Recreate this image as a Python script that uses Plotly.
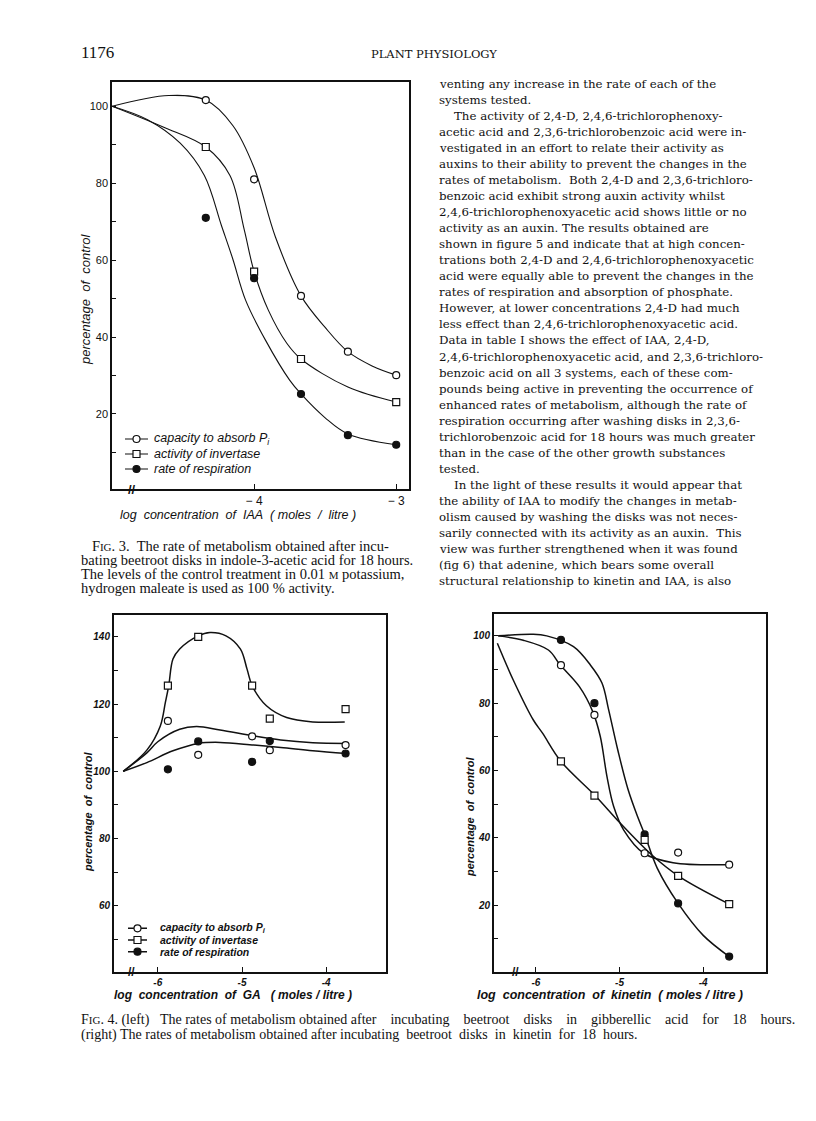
import plotly.graph_objects as go

# page is 816x1121; the html body adds an 8px margin, so the figure is 800x1105 offset by 8px
PAGE_W, PAGE_H = 816, 1121
OFF = 8
W, H = PAGE_W - 2 * OFF, PAGE_H - 2 * OFF

# ---------------- data: Fig. 3 (IAA) ----------------
iaa_x = [-4.34, -4.0, -3.67, -3.34, -3.0]
iaa_pi = [101.6, 81.0, 50.7, 36.2, 30.1]
iaa_inv_x = [-4.34, -4.0, -3.67, -3.0]
iaa_inv = [89.4, 57.0, 34.3, 23.1]
iaa_resp = [71.0, 55.3, 25.2, 14.5, 12.0]
# hand-drawn fitted curves (knots)
iaa_pi_fit_x = [-5.0, -4.6, -4.34, -4.15, -4.0, -3.85, -3.67, -3.5, -3.34, -3.17, -3.0]
iaa_pi_fit_y = [100, 102.8, 101.6, 95.0, 84.0, 66.0, 50.7, 42.5, 36.2, 32.5, 30.1]
iaa_inv_fit_x = [-5.0, -4.64, -4.34, -4.17, -4.07, -4.0, -3.9, -3.77, -3.67, -3.34, -3.0]
iaa_inv_fit_y = [100, 94.6, 89.4, 82.0, 68.0, 57.0, 47.0, 38.4, 34.3, 27.0, 23.1]
iaa_resp_fit_x = [-5.0, -4.75, -4.52, -4.35, -4.23, -4.15, -4.06, -3.92, -3.75, -3.67, -3.5, -3.34, -3.0]
iaa_resp_fit_y = [100, 96.5, 90.4, 82.0, 69.0, 60.3, 49.6, 39.2, 28.8, 25.2, 19.0, 14.8, 12.0]

# ---------------- data: Fig. 4 left (GA) ----------------
ga_x = [-5.88, -5.52, -4.88, -4.67, -3.77]
ga_pi = [115.0, 104.9, 110.4, 106.3, 107.8]
ga_inv = [125.5, 140.0, 125.5, 115.7, 118.5]
ga_resp = [100.6, 108.9, 102.8, 109.0, 105.3]
ga_inv_fit_x = [-6.41, -6.13, -5.97, -5.91, -5.87, -5.82, -5.74, -5.52, -5.38, -5.19, -5.02, -4.94, -4.88, -4.71, -4.47, -4.16, -3.78]
ga_inv_fit_y = [100, 106.3, 113.5, 120.5, 125.5, 133.4, 136.4, 140.3, 141.3, 140.3, 136.4, 130.4, 125.5, 119.5, 116.0, 114.7, 114.7]
ga_pi_fit_x = [-6.41, -6.13, -6.0, -5.74, -5.54, -5.26, -4.86, -4.54, -4.16, -3.76]
ga_pi_fit_y = [100, 105.5, 108.8, 112.5, 113.3, 112.3, 110.5, 109.3, 108.5, 108.3]
ga_resp_fit_x = [-6.41, -6.13, -5.82, -5.52, -5.26, -4.86, -4.54, -4.16, -3.76]
ga_resp_fit_y = [100, 102.6, 106.1, 108.3, 108.6, 107.8, 107.1, 106.1, 105.3]

# ---------------- data: Fig. 4 right (kinetin) ----------------
kin_x = [-5.70, -5.30, -4.70, -4.30, -3.69]
kin_pi = [91.3, 76.5, 35.4, 35.6, 32.0]
kin_inv = [62.7, 52.5, 39.4, 28.7, 20.3]
kin_resp = [98.8, 80.0, 41.0, 20.5, 4.7]
kin_resp_fit_x = [-6.45, -6.03, -5.87, -5.55, -5.35, -5.21, -5.13, -5.02, -4.90, -4.78, -4.70, -4.55, -4.30, -4.0, -3.69]
kin_resp_fit_y = [100, 100.5, 100, 96.8, 91.4, 86, 78, 66, 54.5, 46, 41, 31, 20.5, 11, 4.7]
kin_pi_fit_x = [-6.45, -6.15, -5.85, -5.71, -5.48, -5.32, -5.23, -5.15, -5.07, -4.95, -4.71, -4.36, -3.69]
kin_pi_fit_y = [100, 98.7, 95.8, 91.4, 84.9, 77.5, 70.1, 58.2, 49.3, 42.3, 35.4, 32.6, 32.0]
kin_inv_fit_x = [-6.46, -6.27, -6.03, -5.92, -5.70, -5.29, -4.99, -4.61, -4.30, -3.69]
kin_inv_fit_y = [97.8, 86.9, 75.0, 71.1, 62.7, 52.5, 44.3, 34.8, 28.7, 20.3]

series_labels = ["capacity to absorb <i>P</i><sub>i</sub>", "activity of invertase", "rate of respiration"]

# ---------------- text ----------------
header_left = "1176"
header_right = "PLANT PHYSIOLOGY"
body_lines = [
    "venting any increase in the rate of each of the",
    "systems tested.",
    "\u00a0\u00a0\u00a0\u00a0The activity of 2,4-D, 2,4,6-trichlorophenoxy-",
    "acetic acid and 2,3,6-trichlorobenzoic acid were in-",
    "vestigated in an effort to relate their activity as",
    "auxins to their ability to prevent the changes in the",
    "rates of metabolism.  Both 2,4-D and 2,3,6-trichloro-",
    "benzoic acid exhibit strong auxin activity whilst",
    "2,4,6-trichlorophenoxyacetic acid shows little or no",
    "activity as an auxin. The results obtained are",
    "shown in figure 5 and indicate that at high concen-",
    "trations both 2,4-D and 2,4,6-trichlorophenoxyacetic",
    "acid were equally able to prevent the changes in the",
    "rates of respiration and absorption of phosphate.",
    "However, at lower concentrations 2,4-D had much",
    "less effect than 2,4,6-trichlorophenoxyacetic acid.",
    "Data in table I shows the effect of IAA, 2,4-D,",
    "2,4,6-trichlorophenoxyacetic acid, and 2,3,6-trichloro-",
    "benzoic acid on all 3 systems, each of these com-",
    "pounds being active in preventing the occurrence of",
    "enhanced rates of metabolism, although the rate of",
    "respiration occurring after washing disks in 2,3,6-",
    "trichlorobenzoic acid for 18 hours was much greater",
    "than in the case of the other growth substances",
    "tested.",
    "\u00a0\u00a0\u00a0\u00a0In the light of these results it would appear that",
    "the ability of IAA to modify the changes in metab-",
    "olism caused by washing the disks was not neces-",
    "sarily connected with its activity as an auxin.  This",
    "view was further strengthened when it was found",
    "(fig 6) that adenine, which bears some overall",
    "structural relationship to kinetin and IAA, is also",
]
sc = "<span style='font-size:11px'>"
fig3_caption = [
    "\u00a0\u00a0\u00a0F" + sc + "IG</span>. 3.\u00a0 The rate of metabolism obtained after incu-",
    "bating beetroot disks in indole-3-acetic acid for 18 hours.",
    "The levels of the control treatment in 0.01 " + sc + "M</span> potassium,",
    "hydrogen maleate is used as 100 % activity.",
]
g = "\u00a0" * 4
g2 = "\u00a0" * 2
fig4_caption = [
    "F" + sc + "IG</span>. 4. (left)" + "\u00a0" * 3 + "The rates of metabolism obtained after" + g + "incubating" + g
    + "beetroot" + g + "disks" + g + "in" + g + "gibberellic" + g + "acid" + g + "for" + g + "18" + g + "hours.",
    "(right) The rates of metabolism obtained after incubating" + g2 + "beetroot" + g2 + "disks" + g2 + "in"
    + g2 + "kinetin" + g2 + "for" + g2 + "18" + g2 + "hours.",
]


def px(x):
    return (x - OFF) / W


def py(y):
    return 1 - (y - OFF) / H


fig = go.Figure()
BLACK = "#111"
sans = "Liberation Sans"
serif_body = "DejaVu Serif"
serif_cap = "Liberation Serif"


def add_series(xa, ya, fit_x, fit_y, pts_x, pts_y, symbol, fill, lw, msize):
    fig.add_trace(go.Scatter(x=fit_x, y=fit_y, mode="lines",
                             line=dict(color=BLACK, width=lw, shape="spline", smoothing=1.0),
                             xaxis=xa, yaxis=ya, hoverinfo="skip"))
    fig.add_trace(go.Scatter(x=pts_x, y=pts_y, mode="markers",
                             marker=dict(symbol=symbol, size=msize, color=fill, line=dict(color=BLACK, width=1.2)),
                             xaxis=xa, yaxis=ya, hoverinfo="skip"))


# Fig 3
add_series("x", "y", iaa_pi_fit_x, iaa_pi_fit_y, iaa_x, iaa_pi, "circle", "white", 1.1, 7)
add_series("x", "y", iaa_inv_fit_x, iaa_inv_fit_y, iaa_inv_x, iaa_inv, "square", "white", 1.1, 7)
add_series("x", "y", iaa_resp_fit_x, iaa_resp_fit_y, iaa_x, iaa_resp, "circle", BLACK, 1.1, 7)
# Fig 4 left
add_series("x2", "y2", ga_inv_fit_x, ga_inv_fit_y, ga_x, ga_inv, "square", "white", 1.5, 7)
add_series("x2", "y2", ga_pi_fit_x, ga_pi_fit_y, ga_x, ga_pi, "circle", "white", 1.5, 7)
add_series("x2", "y2", ga_resp_fit_x, ga_resp_fit_y, ga_x, ga_resp, "circle", BLACK, 1.5, 7)
# Fig 4 right
add_series("x3", "y3", kin_resp_fit_x, kin_resp_fit_y, kin_x, kin_resp, "circle", BLACK, 1.5, 7)
add_series("x3", "y3", kin_pi_fit_x, kin_pi_fit_y, kin_x, kin_pi, "circle", "white", 1.5, 7)
add_series("x3", "y3", kin_inv_fit_x, kin_inv_fit_y, kin_x, kin_inv, "square", "white", 1.5, 7)

annotations = []


def add_legend(xa, ya, font, lw, msize, gap):
    for i, lab in enumerate(series_labels):
        fig.add_trace(go.Scatter(x=[0, 2], y=[i, i], mode="lines", line=dict(color=BLACK, width=lw),
                                 xaxis=xa, yaxis=ya, hoverinfo="skip"))
        fig.add_trace(go.Scatter(x=[1], y=[i], mode="markers",
                                 marker=dict(symbol="square" if i == 1 else "circle", size=msize,
                                             color=BLACK if i == 2 else "white", line=dict(color=BLACK, width=1.2)),
                                 xaxis=xa, yaxis=ya, hoverinfo="skip"))
        annotations.append(dict(x=2, y=i, xref=xa, yref=ya, text=lab, showarrow=False, xanchor="left",
                                yanchor="middle", xshift=gap, font=font))


add_legend("x4", "y4", dict(family=sans, size=12.5, color=BLACK, style="italic"), 1.1, 7, 4)
add_legend("x5", "y5", dict(family=sans, size=10.5, color=BLACK, style="italic", weight="bold"), 1.5, 7, 11)

axis_common = dict(showline=True, mirror=True, linecolor=BLACK, showgrid=False, zeroline=False,
                   tickcolor=BLACK, fixedrange=True)
bi10 = dict(family=sans, size=10, color=BLACK, style="italic", weight="bold")

fig.update_layout(
    width=W, height=H, margin=dict(l=0, r=0, t=0, b=0), paper_bgcolor="white", plot_bgcolor="white",
    showlegend=False,
    xaxis=dict(domain=[px(112), px(409)], range=[-5.0, -2.91], tickvals=[-4, -3], ticktext=["\u2212 4", "\u2212 3"],
               ticks="inside", ticklen=5, linewidth=1.5,
               tickfont=dict(family=sans, size=12, color=BLACK), anchor="y", **axis_common),
    yaxis=dict(domain=[py(489), py(82)], range=[0.5, 106.3], tickvals=[20, 40, 60, 80, 100],
               ticks="inside", ticklen=4, linewidth=1.5,
               minor=dict(tickvals=[10, 30, 50, 70, 90], ticks="inside", ticklen=4, tickcolor=BLACK),
               tickfont=dict(family=sans, size=11, color=BLACK), anchor="x", **axis_common),
    xaxis2=dict(domain=[px(114), px(386)], range=[-6.52, -3.29], tickvals=[-6, -5, -4], ticktext=["-6", "-5", "-4"],
                ticks="inside", ticklen=5, linewidth=2, tickfont=bi10, anchor="y2", **axis_common),
    yaxis2=dict(domain=[py(972), py(615)], range=[40.3, 146.5], tickvals=[60, 80, 100, 120, 140],
                ticks="inside", ticklen=4, linewidth=2,
                minor=dict(tickvals=[50, 70, 90, 110, 130], ticks="inside", ticklen=4, tickcolor=BLACK),
                tickfont=bi10, anchor="x2", **axis_common),
    xaxis3=dict(domain=[px(494), px(766)], range=[-6.50, -3.25], tickvals=[-6, -5, -4], ticktext=["-6", "-5", "-4"],
                ticks="inside", ticklen=5, linewidth=2, tickfont=bi10, anchor="y3", **axis_common),
    yaxis3=dict(domain=[py(971.7), py(614)], range=[0.2, 106.5], tickvals=[20, 40, 60, 80, 100],
                ticks="inside", ticklen=4, linewidth=2,
                minor=dict(tickvals=[10, 30, 50, 70, 90], ticks="inside", ticklen=4, tickcolor=BLACK),
                tickfont=bi10, anchor="x3", **axis_common),
    xaxis4=dict(domain=[px(125), px(148)], range=[0, 2], visible=False, fixedrange=True, anchor="y4"),
    yaxis4=dict(domain=[py(476.5), py(431.5)], range=[2.5, -0.5], visible=False, fixedrange=True, anchor="x4"),
    xaxis5=dict(domain=[px(128), px(147)], range=[0, 2], visible=False, fixedrange=True, anchor="y5"),
    yaxis5=dict(domain=[py(957.5), py(922.5)], range=[2.5, -0.5], visible=False, fixedrange=True, anchor="x5"),
)

# axis break marks
for xa, ya, xv, fs in [("x", "y", -4.86, 13), ("x2", "y2", -6.31, 12), ("x3", "y3", -6.24, 12)]:
    annotations.append(dict(x=xv, y=0, xref=xa, yref=ya + " domain", text="<b>//</b>", showarrow=False,
                            xanchor="center", yanchor="middle", font=dict(family=sans, size=fs, color=BLACK)))


def txt(x, y, text, font, xanchor="center", angle=0):
    annotations.append(dict(x=px(x), y=py(y), xref="paper", yref="paper", text=text, showarrow=False,
                            xanchor=xanchor, yanchor="middle", textangle=angle, font=font))


nb = "\u00a0"
# axis titles
txt(86, 300, "percentage" + nb * 2 + "of" + nb * 2 + "control", dict(family=sans, size=13, color=BLACK, style="italic"), angle=-90)
txt(238, 515, "log" + nb * 2 + "concentration" + nb * 2 + "of" + nb * 2 + "IAA" + nb * 2 + "( moles" + nb * 2 + "/" + nb * 2 + "litre )",
    dict(family=sans, size=12.5, color=BLACK, style="italic"))
bi11 = dict(family=sans, size=11, color=BLACK, style="italic", weight="bold")
bi12 = dict(family=sans, size=12, color=BLACK, style="italic", weight="bold")
bi125 = dict(family=sans, size=12.5, color=BLACK, style="italic", weight="bold")
txt(88, 812, "percentage" + nb * 2 + "of" + nb * 2 + "control", bi11, angle=-90)
txt(233, 995, "log" + nb * 2 + "concentration" + nb * 2 + "of" + nb * 2 + "GA" + nb * 3 + "(" + nb + "moles" + nb + "/" + nb + "litre" + nb + ")", bi12)
txt(470, 817, "percentage" + nb * 2 + "of" + nb * 2 + "control", bi11, angle=-90)
txt(610, 995, "log" + nb * 2 + "concentration" + nb * 2 + "of" + nb * 2 + "kinetin" + nb * 2 + "(" + nb + "moles" + nb + "/" + nb + "litre" + nb + ")", bi125)

# page header
txt(79, 53, header_left, dict(family=serif_cap, size=17, color=BLACK), xanchor="left")
txt(434, 54, header_right, dict(family=serif_body, size=11.5, color=BLACK))

# body text (right column)
for i, line in enumerate(body_lines):
    txt(437, 84 + i * 16.03, line, dict(family=serif_body, size=11.8, color=BLACK), xanchor="left")

# Fig 3 caption
for i, line in enumerate(fig3_caption):
    txt(79, 546 + i * 14, line, dict(family=serif_cap, size=14.5, color=BLACK), xanchor="left")

# Fig 4 caption
for i, line in enumerate(fig4_caption):
    txt(79, 1020 + i * 15, line, dict(family=serif_cap, size=14, color=BLACK), xanchor="left")

fig.update_layout(annotations=annotations)
fig.write_html("out.html")
